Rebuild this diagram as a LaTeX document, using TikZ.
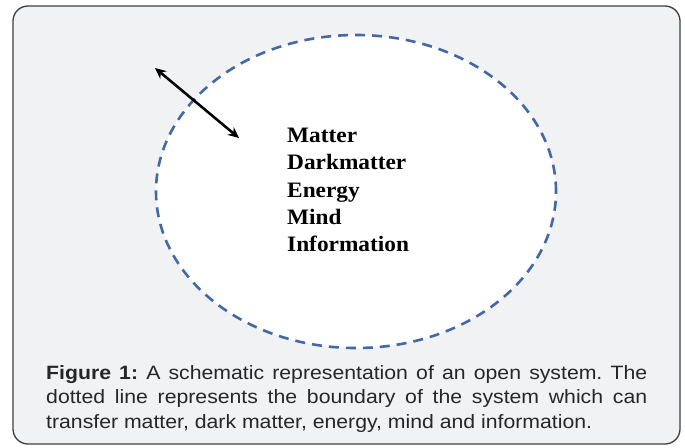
\documentclass[tikz,border=0pt]{standalone}
\usepackage{fontspec}
\setmainfont{Liberation Serif}
\newfontfamily\itemfont[FakeStretch=1.06]{Liberation Serif}
\newfontfamily\capfont[FakeStretch=1.1]{Liberation Sans}
\usetikzlibrary{positioning,arrows.meta,shapes.geometric}
\definecolor{panelgray}{HTML}{F1F2F4}
\definecolor{framegray}{HTML}{3F3F3F}
\definecolor{dashblue}{HTML}{4468A6}
\tikzset{%
  panel/.style    = {draw=framegray, line width=1.3pt, fill=panelgray,%
                     rounded corners=15pt},%
  boundary/.style = {ellipse, draw=dashblue, fill=white, line width=2.6pt,%
                     dash pattern=on 10pt off 7pt, inner sep=0pt,%
                     minimum width=400pt, minimum height=313pt},%
  item/.style     = {font=\itemfont\fontsize{22}{26}\selectfont\bfseries,%
                     inner sep=0pt, anchor=base west},%
  flow/.style     = {{Stealth[length=11pt,width=10pt]}-{Stealth[length=11pt,width=10pt]},%
                     line width=2.5pt},%
  caption/.style  = {font=\capfont\fontsize{19.3}{24.5}\selectfont, text=black!85,%
                     text width=601pt, align=justify, inner sep=0pt, anchor=base west}%
}

\begin{document}
\begin{tikzpicture}[x=1pt, y=-1pt]%
	\path[use as bounding box, fill=white] (0,0) rectangle (685,447);
	\draw[panel] (13,6) rectangle (680,444);
	% the open system
	\node[boundary] (system) at (356,191.5) {};
	\node[item] (matter) at (287,142.7) {Matter};
	\node[below=27.25pt of matter.base west, item] (darkmatter) {Darkmatter};
	\node[below=27.25pt of darkmatter.base west, item] (energy) {Energy};
	\node[below=27.25pt of energy.base west, item] (mind) {Mind};
	\node[below=27.25pt of mind.base west, item] (info) {Information};
	% exchange across the boundary
	\coordinate (outside) at (155,68);
	\coordinate (inside) at (239,138);
	\draw[flow] (outside) -- (inside);
	% caption
	\node[caption] (figcap) at (46,379) {\hyphenpenalty=10000\frenchspacing%
		\textbf{Figure 1:} A schematic representation of an open system. The\linebreak
		dotted line represents the boundary of the system which can\linebreak
		transfer matter, dark matter, energy, mind and information.};
\end{tikzpicture}
\end{document}
